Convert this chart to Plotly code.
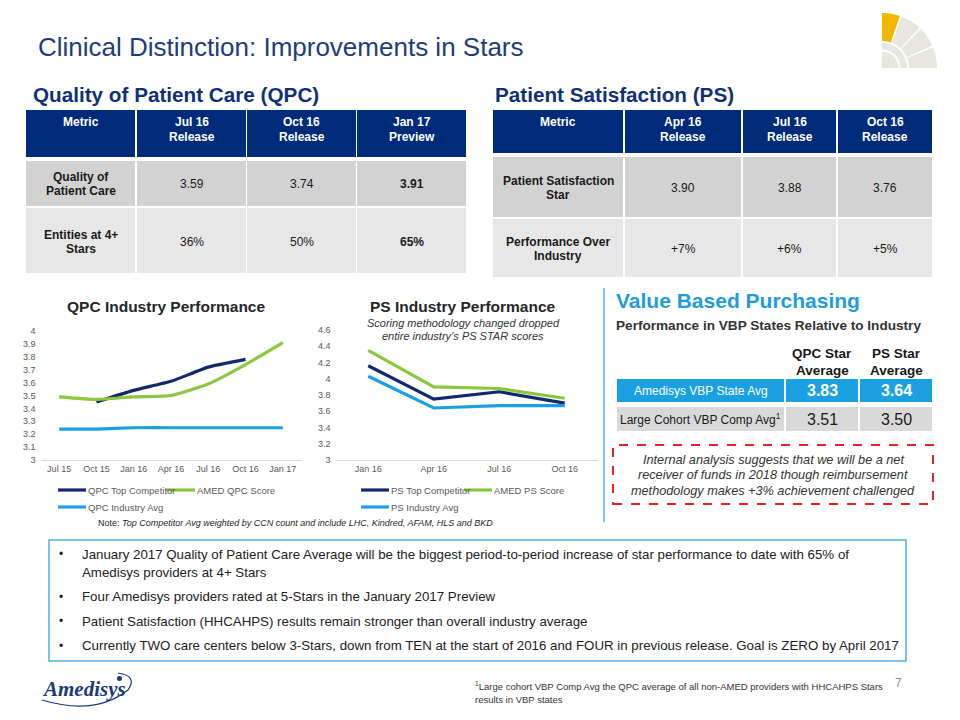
import plotly.graph_objects as go
import numpy as np

# the page body adds an 8px offset, so the figure is drawn 8px smaller and shifted
OFF = 8
W, H = 960 - OFF, 720 - OFF
FONT = "Arial, Liberation Sans, Helvetica, sans-serif"

# ---------------- data ----------------
qpc_periods = ["Jul 15", "Oct 15", "Jan 16", "Apr 16", "Jul 16", "Oct 16", "Jan 17"]
qpc_top_competitor = [None, 3.45, 3.54, 3.61, 3.72, 3.78, None]
qpc_amed_score = [3.49, 3.47, 3.49, 3.50, 3.59, 3.74, 3.91]
qpc_industry_avg = [3.24, 3.24, 3.25, 3.25, 3.25, 3.25, 3.25]
qpc_ytick_vals = [3.0, 3.1, 3.2, 3.3, 3.4, 3.5, 3.6, 3.7, 3.8, 3.9, 4.0]
qpc_ytick_text = ["3", "3.1", "3.2", "3.3", "3.4", "3.5", "3.6", "3.7", "3.8", "3.9", "4"]

ps_periods = ["Jan 16", "Apr 16", "Jul 16", "Oct 16"]
ps_top_competitor = [4.16, 3.75, 3.84, 3.70]
ps_amed_score = [4.35, 3.90, 3.88, 3.76]
ps_industry_avg = [4.03, 3.64, 3.67, 3.67]
ps_ytick_vals = [3.0, 3.2, 3.4, 3.6, 3.8, 4.0, 4.2, 4.4, 4.6]
ps_ytick_text = ["3", "3.2", "3.4", "3.6", "3.8", "4", "4.2", "4.4", "4.6"]

qpc_table_header = [["Metric"], ["Jul 16", "Release"], ["Oct 16", "Release"], ["Jan 17", "Preview"]]
qpc_table_rows = [
    [["Quality of", "Patient Care"], "3.59", "3.74", "3.91"],
    [["Entities at 4+", "Stars"], "36%", "50%", "65%"],
]
ps_table_header = [["Metric"], ["Apr 16", "Release"], ["Jul 16", "Release"], ["Oct 16", "Release"]]
ps_table_rows = [
    [["Patient Satisfaction", "Star"], "3.90", "3.88", "3.76"],
    [["Performance Over", "Industry"], "+7%", "+6%", "+5%"],
]
vbp_columns = [["QPC Star", "Average"], ["PS Star", "Average"]]
vbp_rows = [
    ["Amedisys VBP State Avg", "3.83", "3.64"],
    ["Large Cohort VBP Comp Avg<sup>1</sup>", "3.51", "3.50"],
]
vbp_note = ["Internal analysis suggests that we will be a net",
            "receiver of funds in 2018 though reimbursement",
            "methodology makes +3% achievement challenged"]
bullets = [
    ["January 2017 Quality of Patient Care Average will be the biggest period-to-period increase of star performance to date with 65% of",
     "Amedisys providers at 4+ Stars"],
    ["Four Amedisys providers rated at 5-Stars in the January 2017 Preview"],
    ["Patient Satisfaction (HHCAHPS) results remain stronger than overall industry average"],
    ["Currently TWO care centers below 3-Stars, down from TEN at the start of 2016 and FOUR in previous release. Goal is ZERO by April 2017"],
]

# ---------------- colours ----------------
NAVY = "#13296B"
GREEN = "#8DC63F"
LBLUE = "#1BA1E2"
HEAD = "#002A7A"
ROW1 = "#D2D2D2"
ROW2 = "#E7E7E7"
TXT = "#1A1A1A"


def px(x):
    return (x - OFF) / W


def py(y):
    return 1 - (y - OFF) / H


fig = go.Figure()

# ---------------- charts ----------------
for name, vals, col in [("QPC Top Competitor", qpc_top_competitor, NAVY),
                        ("AMED QPC Score", qpc_amed_score, GREEN),
                        ("QPC Industry Avg", qpc_industry_avg, LBLUE)]:
    fig.add_trace(go.Scatter(x=qpc_periods, y=vals, mode="lines", name=name,
                             line=dict(color=col, width=3.2, shape="spline", smoothing=0.5),
                             xaxis="x", yaxis="y", showlegend=False, hoverinfo="skip"))
for name, vals, col in [("PS Top Competitor", ps_top_competitor, NAVY),
                        ("AMED PS Score", ps_amed_score, GREEN),
                        ("PS Industry Avg", ps_industry_avg, LBLUE)]:
    fig.add_trace(go.Scatter(x=ps_periods, y=vals, mode="lines", name=name,
                             line=dict(color=col, width=3.2),
                             xaxis="x2", yaxis="y2", showlegend=False, hoverinfo="skip"))

axfont = dict(family=FONT, size=9, color="#595959")
fig.update_layout(
    width=W, height=H, margin=dict(l=0, r=0, t=0, b=0, autoexpand=False),
    paper_bgcolor="white", plot_bgcolor="white", showlegend=False,
    xaxis=dict(domain=[px(40.5), px(301.5)], type="category", categoryarray=qpc_periods,
               range=[-0.5, len(qpc_periods) - 0.5],
               showgrid=False, showline=True, linecolor="#D9D9D9", linewidth=1,
               ticks="", tickfont=axfont, zeroline=False, automargin=False),
    yaxis=dict(domain=[py(460), py(331)], range=[3, 4], tickvals=qpc_ytick_vals,
               ticktext=qpc_ytick_text, showgrid=False, showline=False, zeroline=False,
               ticks="", tickfont=axfont, ticklabelstandoff=4, automargin=False),
    xaxis2=dict(domain=[px(335.5), px(597.5)], type="category", categoryarray=ps_periods,
                range=[-0.5, len(ps_periods) - 0.5],
                showgrid=False, showline=True, linecolor="#D9D9D9", linewidth=1,
                ticks="", tickfont=axfont, zeroline=False, anchor="y2", automargin=False),
    yaxis2=dict(domain=[py(460), py(330)], range=[3, 4.6], tickvals=ps_ytick_vals,
                ticktext=ps_ytick_text, showgrid=False, showline=False, zeroline=False,
                ticks="", tickfont=axfont, anchor="x2", ticklabelstandoff=4, automargin=False),
)


def text(x, y, s, size=12, color=TXT, anchor="center", bold=False, italic=False, family=FONT):
    if bold:
        s = "<b>" + s + "</b>"
    if italic:
        s = "<i>" + s + "</i>"
    fig.add_annotation(x=px(x), y=py(y), xref="paper", yref="paper", text=s,
                       showarrow=False, xanchor=anchor, yanchor="middle",
                       font=dict(family=family, size=size, color=color), borderpad=0)


def rect(x0, y0, x1, y1, fill=None, line=None, lw=0, dash=None):
    fig.add_shape(type="rect", xref="paper", yref="paper", x0=px(x0), x1=px(x1),
                  y0=py(y1), y1=py(y0), fillcolor=fill,
                  line=dict(color=line if line else "rgba(0,0,0,0)", width=lw, dash=dash),
                  layer="below")


def seg(x0, y0, x1, y1, color, width=1, dash=None):
    fig.add_shape(type="line", xref="paper", yref="paper", x0=px(x0), x1=px(x1),
                  y0=py(y0), y1=py(y1), line=dict(color=color, width=width, dash=dash))


def path(points, fill, line=None, lw=0, closed=True):
    d = "M " + " L ".join(f"{px(x):.5f},{py(y):.5f}" for x, y in points)
    if closed:
        d += " Z"
    fig.add_shape(type="path", xref="paper", yref="paper", path=d,
                  fillcolor=fill, line=dict(color=line if line else "rgba(0,0,0,0)", width=lw))


# ---------------- title + logo ----------------
text(37, 47, "Clinical Distinction: Improvements in Stars", size=26, color="#1F3C7E", anchor="left")


def sector(cx, cy, r0, r1, a0, a1, n=24):
    a = np.radians(np.linspace(a0, a1, n))
    outer = [(cx + r1 * np.cos(t), cy - r1 * np.sin(t)) for t in a]
    inner = [(cx + r0 * np.cos(t), cy - r0 * np.sin(t)) for t in a[::-1]]
    return outer + inner


cx, cy = 882, 68
path(sector(cx, cy, 27, 55, 71, 90), "#F2B705")
for a0, a1 in [(47, 69), (24, 45), (0, 22)]:
    path(sector(cx, cy, 27, 55, a0, a1), "#E8E7DF")
path(sector(cx, cy, 18.5, 25, 0, 90), "#E8E7DF")
path(sector(cx, cy, 0.01, 16.5, 0, 90), "#E8E7DF")

# ---------------- QPC table ----------------
text(32, 95, "Quality of Patient Care (QPC)", size=20.7, color="#12307A", anchor="left", bold=True)
qcols = [(26, 135), (137, 246), (247, 356), (357, 466)]
for (x0, x1), lines in zip(qcols, qpc_table_header):
    rect(x0, 110, x1, 157, fill=HEAD)
    for i, ln in enumerate(lines):
        text((x0 + x1) / 2, 122 + 15 * i, ln, size=12, color="white", bold=True)
qrows = [(161, 206, ROW1, 184), (208, 273, ROW2, 242)]
for (y0, y1, fill, yc), row in zip(qrows, qpc_table_rows):
    for ci, ((x0, x1), cell) in enumerate(zip(qcols, row)):
        rect(x0, y0, x1, y1, fill=fill)
        if ci == 0:
            for i, ln in enumerate(cell):
                text((x0 + x1) / 2, yc - 7 + 14 * i, ln, size=12, bold=True)
        else:
            text((x0 + x1) / 2, yc, cell, size=12, bold=(ci == 3))

# ---------------- PS table ----------------
text(494, 95, "Patient Satisfaction (PS)", size=20.7, color="#12307A", anchor="left", bold=True)
pcols = [(493, 623), (625, 741), (743, 836), (838, 932)]
for (x0, x1), lines in zip(pcols, ps_table_header):
    rect(x0, 110, x1, 153, fill=HEAD)
    for i, ln in enumerate(lines):
        text((x0 + x1) / 2, 122 + 15 * i, ln, size=12, color="white", bold=True)
prows = [(157, 217, ROW1, 187.5), (219, 277, ROW2, 248.5)]
for (y0, y1, fill, yc), row in zip(prows, ps_table_rows):
    for ci, ((x0, x1), cell) in enumerate(zip(pcols, row)):
        rect(x0, y0, x1, y1, fill=fill)
        if ci == 0:
            for i, ln in enumerate(cell):
                text((x0 + x1) / 2, yc - 7 + 14 * i, ln, size=12, bold=True)
        else:
            text((x0 + x1) / 2, yc, cell, size=12)

# ---------------- chart titles / legends / note ----------------
text(166, 306, "QPC Industry Performance", size=15.5, color="#262626", bold=True)
text(463, 306, "PS Industry Performance", size=15.5, color="#262626", bold=True)
text(463, 323, "Scoring methodology changed dropped", size=11, color="#333333", italic=True)
text(463, 336, "entire industry\u2019s PS STAR scores", size=11, color="#333333", italic=True)

legfont = dict(size=9.5, color="#595959")
legend_items = [
    (58, 86, 490, NAVY, "QPC Top Competitor"), (166, 195, 490, GREEN, "AMED QPC Score"),
    (58, 86, 507, LBLUE, "QPC Industry Avg"),
    (361, 389, 490, NAVY, "PS Top Competitor"), (464, 492, 490, GREEN, "AMED PS Score"),
    (361, 389, 507, LBLUE, "PS Industry Avg"),
]
for x0, x1, y, col, lab in legend_items:
    seg(x0, y, x1, y, col, width=3.2)
    text(x1 + 0.5, y, lab, anchor="left", **legfont)
text(295, 523, "Note: <i>Top Competitor Avg weighted by CCN count and include LHC, Kindred, AFAM, HLS and BKD</i>",
     size=9, color="#262626")

# ---------------- VBP ----------------
seg(604, 288, 604, 522, "#4FB3E0", width=1.5)
text(615, 300, "Value Based Purchasing", size=21, color="#1F9DDB", anchor="left", bold=True)
text(615, 325, "Performance in VBP States Relative to Industry", size=13.6, color="#333333",
     anchor="left", bold=True)
vcols = [(617, 784), (786, 858), (860, 932)]
for (x0, x1), lines in zip(vcols[1:], vbp_columns):
    for i, ln in enumerate(lines):
        text((x0 + x1) / 2, 353 + 17 * i, ln, size=13.5, color="#1A1A1A", bold=True)
vrows = [(379, 402, LBLUE, "white", True), (407, 431, "#D9D9D9", TXT, False)]
for (y0, y1, fill, tc, bold), row in zip(vrows, vbp_rows):
    for ci, ((x0, x1), cell) in enumerate(zip(vcols, row)):
        rect(x0, y0, x1, y1, fill=fill)
        if ci == 0:
            text((x0 + x1) / 2, (y0 + y1) / 2, cell, size=12, color=tc)
        else:
            text((x0 + x1) / 2, (y0 + y1) / 2, cell, size=16, color=tc, bold=bold)
rect(613, 445, 933, 504, fill=None, line="#E0262B", lw=2, dash="dash")
for i, ln in enumerate(vbp_note):
    text(773, 459.5 + 15.5 * i, ln, size=12.7, color="#333333", italic=True)

# ---------------- bullet box ----------------
rect(49, 540, 906, 661, fill="white", line="#4DB3DF", lw=1.5)
by = 554
for item in bullets:
    text(61, by, "\u2022", size=12, color="#222222")
    for i, ln in enumerate(item):
        text(81, by, ln, size=13.3, color="#222222", anchor="left")
        if i < len(item) - 1:
            by += 18
    by += 24.5

# ---------------- footer ----------------
text(474, 686, "<sup>1</sup>Large cohort VBP Comp Avg the QPC average of all non-AMED providers with HHCAHPS Stars",
     size=9.5, color="#333333", anchor="left")
text(474, 699, "results in VBP states", size=9.5, color="#333333", anchor="left")
text(898, 683, "7", size=12, color="#8C8C8C")

text(84, 689, "Amedisys", size=21, color="#1B3A7A", bold=True, italic=True,
     family="Liberation Serif, Times New Roman, serif")
fig.add_shape(type="path", xref="paper", yref="paper",
              path=(f"M {px(42):.5f},{py(700):.5f} Q {px(95):.5f},{py(716):.5f} {px(128):.5f},{py(690):.5f}"
                    f" Q {px(138):.5f},{py(676):.5f} {px(118):.5f},{py(673):.5f}"),
              line=dict(color="#1B3A7A", width=1.2))
fig.add_shape(type="circle", xref="paper", yref="paper", x0=px(117), x1=px(122),
              y0=py(681), y1=py(676), fillcolor="#1B3A7A", line=dict(width=0))

fig.write_html("out.html")
